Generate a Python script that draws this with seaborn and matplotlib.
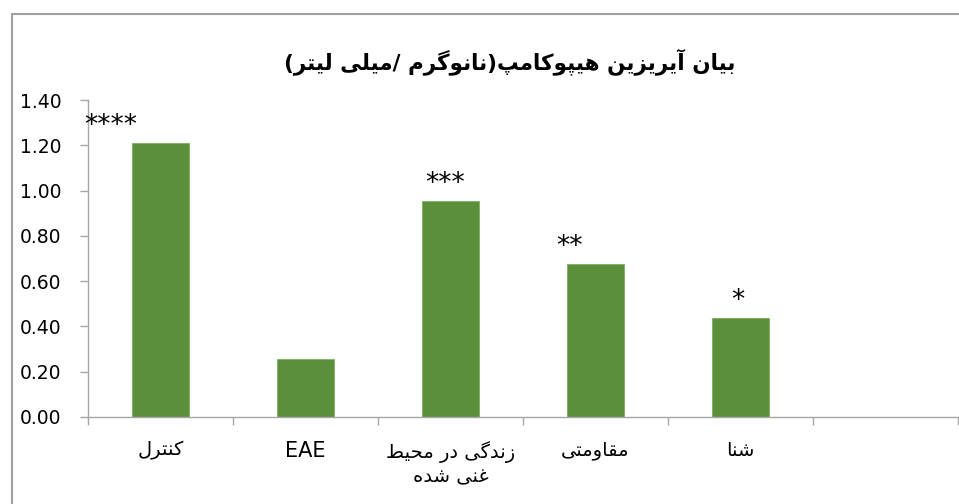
import matplotlib
matplotlib.use("Agg")
import matplotlib.pyplot as plt
from matplotlib.patches import Rectangle
import seaborn as sns
import pandas as pd

# ---------------- data ----------------
title_text = "بیان آیریزین هیپوکامپ(نانوگرم /میلی لیتر)"
categories = ["کنترل", "EAE", "زندگی در محیط\nغنی شده", "مقاومتی", "شنا"]
values = [1.21, 0.256, 0.955, 0.677, 0.438]
stars = ["****", "", "***", "**", "*"]
y_ticks = [0.0, 0.2, 0.4, 0.6, 0.8, 1.0, 1.2, 1.4]

# ---------------- minimal Arabic/Persian shaping ----------------
FORMS = {
    "\u0627": ("\uFE8D", "\uFE8E", None, None),
    "\u0622": ("\uFE81", "\uFE82", None, None),
    "\u0628": ("\uFE8F", "\uFE90", "\uFE91", "\uFE92"),
    "\u062A": ("\uFE95", "\uFE96", "\uFE97", "\uFE98"),
    "\u062D": ("\uFEA1", "\uFEA2", "\uFEA3", "\uFEA4"),
    "\u062F": ("\uFEA9", "\uFEAA", None, None),
    "\u0631": ("\uFEAD", "\uFEAE", None, None),
    "\u0632": ("\uFEAF", "\uFEB0", None, None),
    "\u0634": ("\uFEB5", "\uFEB6", "\uFEB7", "\uFEB8"),
    "\u0637": ("\uFEC1", "\uFEC2", "\uFEC3", "\uFEC4"),
    "\u063A": ("\uFECD", "\uFECE", "\uFECF", "\uFED0"),
    "\u0642": ("\uFED5", "\uFED6", "\uFED7", "\uFED8"),
    "\u0644": ("\uFEDD", "\uFEDE", "\uFEDF", "\uFEE0"),
    "\u0645": ("\uFEE1", "\uFEE2", "\uFEE3", "\uFEE4"),
    "\u0646": ("\uFEE5", "\uFEE6", "\uFEE7", "\uFEE8"),
    "\u0647": ("\uFEE9", "\uFEEA", "\uFEEB", "\uFEEC"),
    "\u0648": ("\uFEED", "\uFEEE", None, None),
    "\u067E": ("\uFB56", "\uFB57", "\uFB58", "\uFB59"),
    "\u06A9": ("\uFB8E", "\uFB8F", "\uFB90", "\uFB91"),
    "\u06AF": ("\uFB92", "\uFB93", "\uFB94", "\uFB95"),
    "\u06CC": ("\uFBFC", "\uFBFD", "\uFBFE", "\uFBFF"),
}
MIRROR = {"(": ")", ")": "("}


def shape_line(s):
    if not any(c in FORMS for c in s):
        return s
    out = []
    n = len(s)
    for i, c in enumerate(s):
        if c not in FORMS:
            out.append(MIRROR.get(c, c))
            continue
        f = FORMS[c]
        prev = s[i - 1] if i > 0 else None
        nxt = s[i + 1] if i < n - 1 else None
        pj = prev in FORMS and FORMS[prev][2] is not None
        nj = f[2] is not None and nxt in FORMS
        if pj and nj:
            out.append(f[3])
        elif pj:
            out.append(f[1])
        elif nj:
            out.append(f[2])
        else:
            out.append(f[0])
    return "".join(reversed(out))


def shape(s):
    return "\n".join(shape_line(l) for l in s.split("\n"))


# ---------------- figure ----------------
sns.set_style("white")
plt.rcParams["font.family"] = ["DejaVu Sans"]

W, H = 959, 504
fig = plt.figure(figsize=(W / 100, H / 100), dpi=100)
ax = fig.add_axes([88 / W, 1 - 417 / H, (958 - 88) / W, (417 - 100) / H])

df = pd.DataFrame({"cat": categories, "val": values})
sns.barplot(data=df, x="cat", y="val", order=categories, color="#5B8F3B",
            width=0.39, saturation=1, edgecolor="#7FAE62", linewidth=0.6, ax=ax)

ax.set_xlim(-0.5, len(categories) + 0.5)
ax.set_ylim(0, 1.4)
ax.set_xlabel("")
ax.set_ylabel("")

grey = "#A6A6A6"
for side in ["top", "right"]:
    ax.spines[side].set_visible(False)
for side in ["left", "bottom"]:
    ax.spines[side].set_color(grey)
    ax.spines[side].set_linewidth(1.0)

ax.set_yticks(y_ticks)
ax.set_yticklabels([f"{v:.2f}" for v in y_ticks])
ax.tick_params(axis="y", which="major", direction="out", length=6, width=1.0,
               color=grey, pad=13, labelsize=13.5, labelcolor="black", left=True)

n_slots = len(categories) + 1
ax.set_xticks([i - 0.5 for i in range(n_slots + 1)])
ax.set_xticklabels([])
ax.tick_params(axis="x", which="major", direction="out", length=6, width=1.0,
               color=grey, bottom=True)
ax.set_xticks(list(range(len(categories))), minor=True)
ax.set_xticklabels([shape(c) for c in categories], minor=True, linespacing=1.3)
ax.tick_params(axis="x", which="minor", length=0, pad=17, labelsize=14,
               labelcolor="black")
for lab in ax.get_xticklabels(minor=True):
    if lab.get_text() == "EAE":
        lab.set_fontsize(15)

# significance stars
star_dx = [-0.345, 0, -0.035, -0.18, -0.02]
for i, (s, v) in enumerate(zip(stars, values)):
    if s:
        ax.text(i + star_dx[i], v + 0.045, s, ha="center", va="baseline",
                fontsize=19, color="black")

fig.text(510 / W, 1 - 62 / H, shape(title_text), ha="center", va="center",
         fontsize=15.5, fontweight="bold", color="black")

fig.patches.append(Rectangle((12 / W, -0.1), 1.2, 1 - 14 / H + 0.1,
                             transform=fig.transFigure, fill=False,
                             edgecolor="#A0A0A0", linewidth=1.5))

fig.savefig("out.png", dpi=100)
